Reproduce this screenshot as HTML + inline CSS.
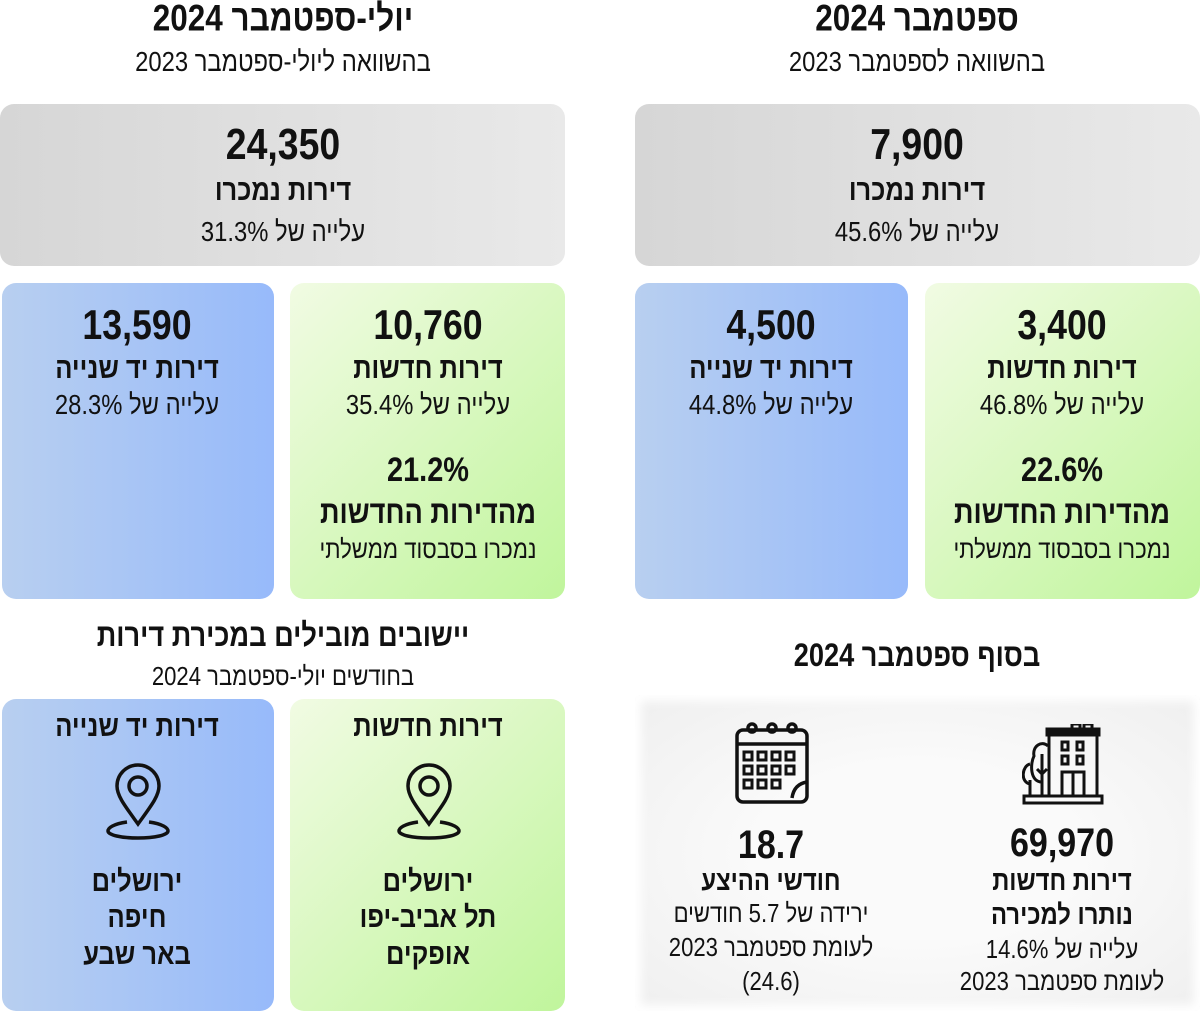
<!DOCTYPE html><html><head><meta charset="utf-8"><style>
body{margin:0;width:1200px;height:1011px;background:#fff;position:relative;overflow:hidden;font-family:"Liberation Sans Narrow","Liberation Sans",sans-serif;color:#111}
.t{position:absolute;transform:translate(-50%,-50%) scaleX(0.85);white-space:nowrap;direction:rtl;line-height:1}
.b{font-weight:bold}
.box{position:absolute;border-radius:14px}
.gray{background:linear-gradient(90deg,#d6d6d6,#e9e9e9)}
.green{background:linear-gradient(135deg,#f1fbe3,#c0f59c)}
.blue{background:linear-gradient(90deg,#b8cff0,#97bafa)}
</style></head><body>
<div class="box gray" style="left:635px;top:104px;width:565px;height:162px"></div>
<div class="box gray" style="left:0;top:104px;width:565px;height:162px"></div>
<div class="box green" style="left:925px;top:283px;width:275px;height:316px"></div>
<div class="box blue" style="left:635px;top:283px;width:273px;height:316px"></div>
<div class="box green" style="left:290px;top:283px;width:275px;height:316px"></div>
<div class="box blue" style="left:2px;top:283px;width:272px;height:316px"></div>
<div class="box" style="left:635px;top:695px;width:565px;height:316px;background:radial-gradient(ellipse at center,#fafafa 40%,#efefef 100%);border-radius:6px;box-shadow:0 0 10px 6px #fff inset"></div>
<div class="box green" style="left:290px;top:699px;width:275px;height:312px"></div>
<div class="box blue" style="left:2px;top:699px;width:272px;height:312px"></div>

<div class="t b" style="left:917px;top:18px;font-size:37px">ספטמבר 2024</div>
<div class="t" style="left:917px;top:62px;font-size:28px">בהשוואה לספטמבר 2023</div>
<div class="t b" style="left:283px;top:18px;font-size:37px">יולי-ספטמבר 2024</div>
<div class="t" style="left:283px;top:62px;font-size:28px">בהשוואה ליולי-ספטמבר 2023</div>

<div class="t b" style="left:917px;top:145px;font-size:44px">7,900</div>
<div class="t b" style="left:917px;top:191px;font-size:30px">דירות נמכרו</div>
<div class="t" style="left:917px;top:232px;font-size:28px">עלייה של 45.6%</div>
<div class="t b" style="left:283px;top:145px;font-size:44px">24,350</div>
<div class="t b" style="left:283px;top:191px;font-size:30px">דירות נמכרו</div>
<div class="t" style="left:283px;top:232px;font-size:28px">עלייה של 31.3%</div>

<div class="t b" style="left:1062px;top:325px;font-size:42px">3,400</div>
<div class="t b" style="left:1062px;top:369px;font-size:30px">דירות חדשות</div>
<div class="t" style="left:1062px;top:405px;font-size:28px">עלייה של 46.8%</div>
<div class="t b" style="left:1062px;top:470px;font-size:34px">22.6%</div>
<div class="t b" style="left:1062px;top:512px;font-size:32px">מהדירות החדשות</div>
<div class="t" style="left:1062px;top:549px;font-size:26px">נמכרו בסבסוד ממשלתי</div>
<div class="t b" style="left:771px;top:325px;font-size:42px">4,500</div>
<div class="t b" style="left:771px;top:369px;font-size:30px">דירות יד שנייה</div>
<div class="t" style="left:771px;top:405px;font-size:28px">עלייה של 44.8%</div>

<div class="t b" style="left:428px;top:325px;font-size:42px">10,760</div>
<div class="t b" style="left:428px;top:369px;font-size:30px">דירות חדשות</div>
<div class="t" style="left:428px;top:405px;font-size:28px">עלייה של 35.4%</div>
<div class="t b" style="left:428px;top:470px;font-size:34px">21.2%</div>
<div class="t b" style="left:428px;top:512px;font-size:32px">מהדירות החדשות</div>
<div class="t" style="left:428px;top:549px;font-size:26px">נמכרו בסבסוד ממשלתי</div>
<div class="t b" style="left:137px;top:325px;font-size:42px">13,590</div>
<div class="t b" style="left:137px;top:369px;font-size:30px">דירות יד שנייה</div>
<div class="t" style="left:137px;top:405px;font-size:28px">עלייה של 28.3%</div>

<div class="t b" style="left:917px;top:655px;font-size:32px">בסוף ספטמבר 2024</div>
<div class="t b" style="left:283px;top:635px;font-size:32px">יישובים מובילים במכירת דירות</div>
<div class="t" style="left:283px;top:676px;font-size:26px">בחודשים יולי-ספטמבר 2024</div>

<svg style="position:absolute;left:734px;top:722px" width="76" height="82" viewBox="0 0 76 82" fill="none" stroke="#111" stroke-width="3.5">
<rect x="3" y="8" width="70" height="72" rx="6"/><line x1="3" y1="22" x2="73" y2="22"/>
<circle cx="18" cy="6" r="4"/><circle cx="38" cy="6" r="4"/><circle cx="58" cy="6" r="4"/>
<g stroke-width="3"><rect x="10" y="30" width="8" height="8"/><rect x="24" y="30" width="8" height="8"/><rect x="38" y="30" width="8" height="8"/><rect x="52" y="30" width="8" height="8"/>
<rect x="10" y="44" width="8" height="8"/><rect x="24" y="44" width="8" height="8"/><rect x="38" y="44" width="8" height="8"/><rect x="52" y="44" width="8" height="8"/>
<rect x="10" y="58" width="8" height="8"/><rect x="24" y="58" width="8" height="8"/><rect x="38" y="58" width="8" height="8"/></g>
<path d="M73 60 Q60 62 58 76"/></svg>
<svg style="position:absolute;left:1022px;top:724px" width="82" height="82" viewBox="0 0 82 82" fill="none" stroke="#111" stroke-width="3">
<rect x="2" y="72" width="78" height="7"/><rect x="27" y="8" width="48" height="64"/><rect x="25" y="5" width="52" height="6"/>
<rect x="50" y="0" width="8" height="5"/><rect x="62" y="0" width="8" height="5"/>
<rect x="40" y="18" width="6" height="8"/><rect x="55" y="18" width="6" height="8"/><rect x="40" y="32" width="6" height="8"/><rect x="55" y="32" width="6" height="8"/>
<rect x="40" y="48" width="22" height="24"/><line x1="51" y1="48" x2="51" y2="72"/>
<path d="M20 72V30 M20 50l-5-5 M20 50l5-5"/><path d="M20 58C8 58 8 40 12 32 10 22 20 16 26 22"/><path d="M8 72V56 M8 60C-2 58 0 42 8 40"/></svg>

<div class="t b" style="left:771px;top:845px;font-size:40px">18.7</div>
<div class="t b" style="left:771px;top:881px;font-size:28px">חודשי ההיצע</div>
<div class="t" style="left:771px;top:913px;font-size:26px">ירידה של 5.7 חודשים</div>
<div class="t" style="left:771px;top:947px;font-size:26px">לעומת ספטמבר 2023</div>
<div class="t" style="left:771px;top:981px;font-size:26px">(24.6)</div>
<div class="t b" style="left:1062px;top:843px;font-size:40px">69,970</div>
<div class="t b" style="left:1062px;top:881px;font-size:28px">דירות חדשות</div>
<div class="t b" style="left:1062px;top:915px;font-size:28px">נותרו למכירה</div>
<div class="t" style="left:1062px;top:949px;font-size:26px">עלייה של 14.6%</div>
<div class="t" style="left:1062px;top:981px;font-size:26px">לעומת ספטמבר 2023</div>

<div class="t b" style="left:428px;top:727px;font-size:30px">דירות חדשות</div>
<div class="t b" style="left:137px;top:727px;font-size:30px">דירות יד שנייה</div>
<svg style="position:absolute;left:396px;top:762px" width="66" height="78" viewBox="0 0 66 78" fill="none" stroke="#111" stroke-width="3.5"><path d="M33 62C20 44 12 34 12 24a21 21 0 0 1 42 0c0 10-8 20-21 38z"/><circle cx="33" cy="24" r="9"/><path d="M22 60C8 62 3 66 3 69c0 4 13 7 30 7s30-3 30-7c0-3-5-7-19-9"/></svg>
<svg style="position:absolute;left:105px;top:762px" width="66" height="78" viewBox="0 0 66 78" fill="none" stroke="#111" stroke-width="3.5"><path d="M33 62C20 44 12 34 12 24a21 21 0 0 1 42 0c0 10-8 20-21 38z"/><circle cx="33" cy="24" r="9"/><path d="M22 60C8 62 3 66 3 69c0 4 13 7 30 7s30-3 30-7c0-3-5-7-19-9"/></svg>
<div class="t b" style="left:428px;top:882px;font-size:30px">ירושלים</div>
<div class="t b" style="left:428px;top:918px;font-size:30px">תל אביב-יפו</div>
<div class="t b" style="left:428px;top:955px;font-size:30px">אופקים</div>
<div class="t b" style="left:137px;top:882px;font-size:30px">ירושלים</div>
<div class="t b" style="left:137px;top:918px;font-size:30px">חיפה</div>
<div class="t b" style="left:137px;top:955px;font-size:30px">באר שבע</div>
</body></html>
